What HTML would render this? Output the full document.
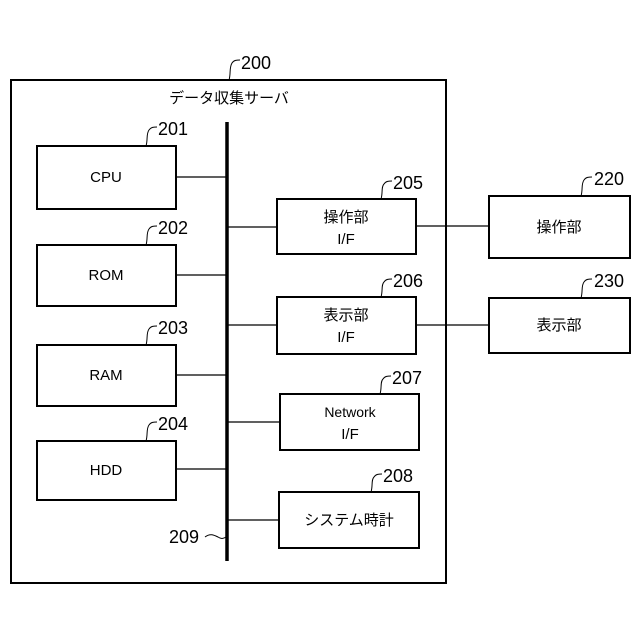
<!DOCTYPE html>
<html><head><meta charset="utf-8"><style>
html,body{margin:0;padding:0;background:#fff}
svg{display:block}
text{font-family:"Liberation Sans","Noto Sans CJK JP",sans-serif;fill:#000}
</style></head><body>
<svg width="640" height="640" viewBox="0 0 640 640" xmlns="http://www.w3.org/2000/svg">
<g fill="none" stroke="#000" stroke-width="2">
<rect x="11" y="80" width="435" height="503"/>
<rect x="37" y="146" width="139" height="63"/>
<rect x="37" y="245" width="139" height="61"/>
<rect x="37" y="345" width="139" height="61"/>
<rect x="37" y="441" width="139" height="59"/>
<rect x="277" y="199" width="139" height="55"/>
<rect x="277" y="297" width="139" height="57"/>
<rect x="280" y="394" width="139" height="56"/>
<rect x="279" y="492" width="140" height="56"/>
<rect x="489" y="196" width="141" height="62"/>
<rect x="489" y="298" width="141" height="55"/>
</g>
<line x1="227" y1="122" x2="227" y2="561" stroke="#000" stroke-width="3.5"/>
<g stroke="#000" stroke-width="1.2">
<line x1="176" y1="177" x2="227" y2="177"/>
<line x1="176" y1="275" x2="227" y2="275"/>
<line x1="176" y1="375" x2="227" y2="375"/>
<line x1="176" y1="469" x2="227" y2="469"/>
<line x1="227" y1="227" x2="277" y2="227"/>
<line x1="227" y1="325" x2="277" y2="325"/>
<line x1="227" y1="422" x2="280" y2="422"/>
<line x1="227" y1="520" x2="279" y2="520"/>
<line x1="416" y1="226" x2="489" y2="226"/>
<line x1="416" y1="325" x2="489" y2="325"/>
</g>
<g fill="none" stroke="#000" stroke-width="1">
<path d="M229 80 C231 74,229 68,232 63 C234 60,237 60,240 60"/>
<path d="M146 146 C148 140,146 134,149 130 C151 127,154 127,157 127"/>
<path d="M146 245 C148 239,146 233,149 229 C151 226,154 226,157 226"/>
<path d="M146 345 C148 339,146 333,149 329 C151 326,154 326,157 326"/>
<path d="M146 441 C148 435,146 429,149 425 C151 422,154 422,157 422"/>
<path d="M381 199 C383 193,381 187,384 184 C386 181,389 181,392 181"/>
<path d="M381 297 C383 291,381 285,384 282 C386 279,389 279,392 279"/>
<path d="M380 394 C382 388,380 382,383 379 C385 376,388 376,391 376"/>
<path d="M371 492 C373 486,371 480,374 477 C376 474,379 474,382 474"/>
<path d="M581 196 C583 190,581 184,584 180 C586 177,589 177,592 177"/>
<path d="M581 298 C583 292,581 286,584 282 C586 279,589 279,592 279"/>
<path d="M205 537 C210 533,214 535,218 537 C221 539,223 539,226 537"/>
</g>
<g font-size="18">
<text x="241" y="69">200</text>
<text x="158" y="135">201</text>
<text x="158" y="234">202</text>
<text x="158" y="334">203</text>
<text x="158" y="430">204</text>
<text x="393" y="189">205</text>
<text x="393" y="287">206</text>
<text x="392" y="384">207</text>
<text x="383" y="482">208</text>
<text x="594" y="185">220</text>
<text x="594" y="287">230</text>
<text x="169" y="543">209</text>
</g>
<g font-size="15" text-anchor="middle">
<text x="229" y="103">データ収集サーバ</text>
<text x="106" y="182">CPU</text>
<text x="106" y="280">ROM</text>
<text x="106" y="380">RAM</text>
<text x="106" y="475">HDD</text>
<text x="346" y="222">操作部</text>
<text x="346" y="244" font-family="Liberation Serif,serif">I/F</text>
<text x="346" y="320">表示部</text>
<text x="346" y="342" font-family="Liberation Serif,serif">I/F</text>
<text x="350" y="417" font-size="14">Network</text>
<text x="350" y="439" font-family="Liberation Serif,serif">I/F</text>
<text x="349" y="525">システム時計</text>
<text x="559" y="232">操作部</text>
<text x="559" y="330">表示部</text>
</g>
</svg>
</body></html>
